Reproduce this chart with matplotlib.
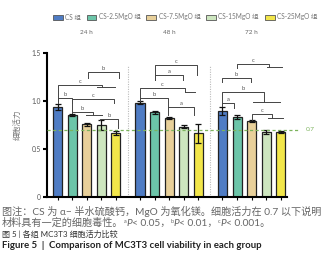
import matplotlib
matplotlib.use('Agg')
import matplotlib.pyplot as plt
from matplotlib.patches import Patch

groups = ['24 h', '48 h', '72 h']
series = ['CS 组', 'CS-2.5MgO 组', 'CS-7.5MgO 组', 'CS-15MgO 组', 'CS-25MgO 组']
colors = ['#4f7cc4', '#6cc5a9', '#e8d09a', '#cde6bf', '#f2e64a']

# mean viability and error per group
v24 = [0.934, 0.854, 0.757, 0.750, 0.663]
e24 = [0.030, 0.015, 0.015, 0.050, 0.020]
v48 = [0.982, 0.882, 0.820, 0.733, 0.663]
e48 = [0.015, 0.018, 0.012, 0.015, 0.100]
v72 = [0.896, 0.833, 0.790, 0.674, 0.680]
e72 = [0.045, 0.020, 0.010, 0.020, 0.010]
threshold = 0.7

yticks = [0, 0.5, 1.0, 1.5]
ytick_labels = ['0', '0.5', '1.0', '1.5']

# significance brackets: group, left bar, right bar, top, left foot, right foot, mark, grouped bars
sig = [
    (0, 2.1, 4.2, 1.305, 1.24, 1.24, 'b', None),
    (0, 0.0, 3.05, 1.167, 1.00, 1.143, 'c', (2.7, 3.94)),
    (0, 0.0, 1.0, 1.034, 0.98, 0.98, 'b', None),
    (0, 1.0, 3.9, 1.018, 0.87, 0.98, 'c', None),
    (0, 1.0, 2.44, 0.889, 0.87, 0.854, 'b', (1.95, 3.05)),
    (0, 2.9, 4.14, 0.8125, 0.80, 0.72, 'b', None),
    (1, 1.03, 3.88, 1.375, 1.22, 1.27, 'c', None),
    (1, 1.03, 2.97, 1.27, 1.22, 1.22, 'a', None),
    (1, 0.0, 3.08, 1.132, 1.00, 1.09, 'c', (3.08, 3.77)),
    (1, 0.0, 1.9, 1.028, 1.00, 0.94, 'b', None),
    (1, 1.94, 3.7, 0.94, 0.854, 0.854, 'a', None),
    (2, 0.97, 3.21, 1.385, 1.34, 1.357, 'c', (3.08, 4.1)),
    (2, 0.0, 1.93, 1.236, 1.2, 1.2, 'b', None),
    (2, 0.0, 2.86, 1.09, 0.95, 0.986, 'b', (2.07, 3.94)),
    (2, 0.0, 0.79, 0.982, 0.95, 0.924, 'a', None),
    (2, 2.0, 3.37, 0.865, 0.80, 0.826, 'c', (3.15, 4.12)),
]

plt.rcParams['font.family'] = ['Lato', 'Noto Sans CJK SC', 'DejaVu Sans']

W, H = 328, 264
fig = plt.figure(figsize=(W / 100, H / 100), dpi=100)
ax = fig.add_axes([47 / W, 67 / H, 240 / W, 144 / H])

gstep = 5.65
values = [v24, v48, v72]
errors = [e24, e48, e72]
all_x = []
for g in range(3):
    xs = [g * gstep + i for i in range(5)]
    all_x += xs
    ax.bar(xs, values[g], width=0.62, color=colors, edgecolor='#222222', linewidth=0.9, zorder=2)
    ax.errorbar(xs, values[g], yerr=errors[g], fmt='none', ecolor='#111111',
                elinewidth=0.9, capsize=2.2, capthick=0.9, zorder=3)
    ax.annotate(groups[g], xy=(g * gstep + 2, 1.139), xycoords=('data', 'axes fraction'),
                ha='center', va='center', fontsize=4.6, color='#666666')

for g, x1, x2, top, b1, b2, mark, span in sig:
    o = g * gstep
    ax.plot([o + x1, o + x1, o + x2, o + x2], [b1, top, top, b2], color='#444444', lw=0.7, zorder=4)
    if span:
        ax.plot([o + span[0], o + span[1]], [b2, b2], color='#444444', lw=0.7, zorder=4)
    ax.text(o + (x1 + x2) / 2, top + 0.012, mark, ha='center', va='bottom', fontsize=4.2, color='#555555')

for xs in [4 + (gstep - 4) / 2, gstep + 4 + (gstep - 4) / 2]:
    ax.plot([xs, xs], [0, 1.375], color='#bbbbbb', lw=0.8, ls=(0, (1, 1.2)), zorder=1)

ax.plot([-0.72, 16.6], [threshold, threshold], color='#7cb35d', lw=0.9, ls=(0, (2.5, 2)),
        clip_on=False, zorder=5)
ax.text(17.0, threshold, '0.7', ha='left', va='center', fontsize=4.6, color='#7cb35d')

ax.set_xlim(-0.72, 15.72)
ax.set_ylim(0, 1.5)
ax.set_yticks(yticks)
ax.set_yticklabels(ytick_labels)
ax.set_xticks(all_x)
ax.set_xticklabels([])
for s in ['top', 'right']:
    ax.spines[s].set_visible(False)
for s in ['left', 'bottom']:
    ax.spines[s].set_linewidth(1.5)
ax.tick_params(axis='y', length=3, width=1.5, labelsize=4.8, labelcolor='#555555', pad=1.5)
ax.tick_params(axis='x', length=2, width=0.8)
ax.set_ylabel('细胞活力', fontsize=5.5, color='#777777', labelpad=8)

handles = [Patch(facecolor=c, edgecolor='#555555', linewidth=0.6) for c in colors]
fig.legend(handles, series, loc='center', bbox_to_anchor=(185 / W, 1 - 17 / H), ncol=5,
           frameon=False, fontsize=4.7, handlelength=1.5, handleheight=0.9,
           handletextpad=0.35, columnspacing=0.9, labelcolor='#777777')

# caption below the chart
renderer = fig.canvas.get_renderer()


def draw_runs(x, y, runs, **kw):
    for s, extra in runs:
        opts = dict(kw)
        opts.update(extra)
        dy = opts.pop('dy', 0)
        t = fig.text(x, y + dy, s, ha='left', va='baseline', **opts)
        x += t.get_window_extent(renderer=renderer).width / fig.bbox.width


cap = dict(fontsize=7.3, color='#666666')
fig.text(2 / W, 1 - 215 / H, '图注：CS 为 α− 半水硫酸钙，MgO 为氧化镁。细胞活力在 0.7 以下说明',
         ha='left', va='baseline', **cap)
sup = {'fontsize': 4.0, 'dy': 3 / H}
it = {'style': 'italic'}
draw_runs(2 / W, 1 - 226 / H, [
    ('材料具有一定的细胞毒性。', {}), ('a', sup), ('P', it), ('< 0.05，', {}),
    ('b', sup), ('P', it), ('< 0.01，', {}), ('c', sup), ('P', it), ('< 0.001。', {}),
], **cap)
fig.text(2 / W, 1 - 237 / H, '图 5 | 各组 MC3T3 细胞活力比较', ha='left', va='baseline',
         fontsize=5.8, color='#333333')
fig.text(2 / W, 1 - 248 / H, 'Figure 5  |  Comparison of MC3T3 cell viability in each group',
         ha='left', va='baseline', fontsize=6.9, fontweight='bold', color='#222222')

fig.savefig('out.png', dpi=100)
